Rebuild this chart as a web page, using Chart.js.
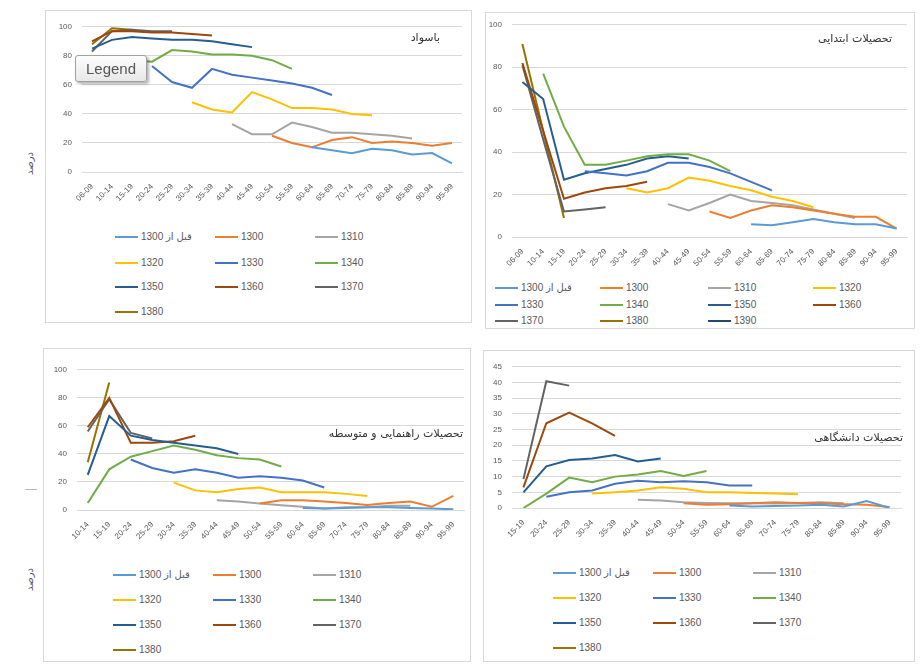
<!DOCTYPE html>
<html>
<head>
<meta charset="utf-8">
<script src="https://cdn.jsdelivr.net/npm/chart.js@4.4.1/dist/chart.umd.min.js"></script>
<style>
body { margin: 0; background: #fff; width: 920px; height: 669px; position: relative; overflow: hidden; font-family: "Liberation Sans", "DejaVu Sans", sans-serif; }
.panel { position: absolute; border: 1px solid #d9d9d9; box-sizing: border-box; }
canvas { position: absolute; }
.title { position: absolute; font-family: "DejaVu Sans", sans-serif; font-size: 11px; color: #333; direction: rtl; white-space: nowrap; }
.ylab { position: absolute; font-family: "DejaVu Sans", sans-serif; font-size: 10px; color: #595959; transform: rotate(-90deg); white-space: nowrap; }
.leg { position: absolute; font-size: 10px; line-height: 12px; color: #595959; white-space: nowrap; }
.leg .sw { display: inline-block; width: 23px; height: 2px; vertical-align: middle; margin-right: 3px; }
.legendTip { position: absolute; left: 75px; top: 55px; width: 72px; height: 27px; box-sizing: border-box; border: 1px solid #a0a0a0; border-radius: 3px;
  background: linear-gradient(#fdfdfd, #e8e8e8); box-shadow: 2px 2px 3px rgba(0,0,0,0.3); font-size: 15px; color: #555; text-align: center; line-height: 25px; }
</style>
</head>
<body>
<div class="panel" style="left:45px;top:10px;width:427px;height:313px"></div>
<div class="panel" style="left:485px;top:12px;width:430px;height:317px"></div>
<div class="panel" style="left:43px;top:348px;width:428px;height:314px"></div>
<div class="panel" style="left:483px;top:350px;width:432px;height:312px"></div>

<canvas id="literate" width="425" height="215" style="left:45px;top:12px"></canvas>
<canvas id="primary" width="428" height="267" style="left:486px;top:10px"></canvas>
<canvas id="secondary" width="425" height="210" style="left:45px;top:355px"></canvas>
<canvas id="university" width="430" height="210" style="left:482px;top:352px"></canvas>

<div class="title" style="right:480px;top:31px">باسواد</div>
<div class="title" style="right:28px;top:32px">تحصیلات ابتدایی</div>
<div class="title" style="right:457px;top:427px">تحصیلات راهنمایی و متوسطه</div>
<div class="title" style="right:17px;top:431px">تحصیلات دانشگاهی</div>

<div class="ylab" style="left:18px;top:158px">درصد</div>
<div class="ylab" style="left:18px;top:574px">درصد</div>
<div style="position:absolute;left:25px;top:489px;width:12px;height:1px;background:#bbb"></div>

<div class="legendTip">Legend</div>

<script>
const cohorts = ['قبل از 1300', '1300', '1310', '1320', '1330', '1340', '1350', '1360', '1370', '1380', '1390'];
const colors = ['#5B9BD5', '#ED7D31', '#A5A5A5', '#FFC000', '#4472C4', '#70AD47', '#255E91', '#9E480E', '#636363', '#997300', '#264478'];

const agesFrom6 = ['06-09', '10-14', '15-19', '20-24', '25-29', '30-34', '35-39', '40-44', '45-49', '50-54',
  '55-59', '60-64', '65-69', '70-74', '75-79', '80-84', '85-89', '90-94', '95-99'];
const agesFrom10 = ['10-14', '15-19', '20-24', '25-29', '30-34', '35-39', '40-44', '45-49', '50-54',
  '55-59', '60-64', '65-69', '70-74', '75-79', '80-84', '85-89', '90-94', '95-99'];
const agesFrom15 = ['15-19', '20-24', '25-29', '30-34', '35-39', '40-44', '45-49', '50-54',
  '55-59', '60-64', '65-69', '70-74', '75-79', '80-84', '85-89', '90-94', '95-99'];

const pctTicks = [0, 20, 40, 60, 80, 100];
const uniTicks = [0, 5, 10, 15, 20, 25, 30, 35, 40, 45];

// باسواد
const literateValues = [
  [null, null, null, null, null, null, null, null, null, null, null, 17, 15, 13, 16, 15, 12, 13, 6],
  [null, null, null, null, null, null, null, null, null, 25, 20, 17, 22, 24, 20, 21, 20, 18, 20],
  [null, null, null, null, null, null, null, 33, 26, 26, 34, 31, 27, 27, 26, 25, 23],
  [null, null, null, null, null, 48, 43, 41, 55, 50, 44, 44, 43, 40, 39],
  [null, null, null, 73, 62, 58, 71, 67, 65, 63, 61, 58, 53],
  [null, 78, 77, 76, 84, 83, 81, 81, 80, 77, 71],
  [85, 91, 93, 92, 91, 91, 90, 88, 86],
  [90, 97, 97, 96, 96, 95, 94],
  [83, 97, 98, 97, 97],
  [88, 99, 98]
];

// تحصیلات ابتدایی
const primaryValues = [
  [null, null, null, null, null, null, null, null, null, null, null, 6, 5.5, 7, 8.5, 7, 6, 6, 4],
  [null, null, null, null, null, null, null, null, null, 12, 9, 12.5, 15, 14, 12.5, 11, 9.5, 9.5, 4],
  [null, null, null, null, null, null, null, 15.5, 12.5, 16, 20, 17, 16, 15, 13, 11, 9],
  [null, null, null, null, null, 23, 21, 23, 28, 26.5, 24, 22, 19, 17, 14],
  [null, null, null, 31, 30, 29, 31, 35, 35, 33, 30, 26, 22],
  [null, 77, 52, 34, 34, 36, 38, 39, 39, 36, 31],
  [73, 65, 27, 30, 32, 34, 37, 38, 37],
  [82, 50, 18, 21, 23, 24, 26],
  [81, 46, 12, 13, 14],
  [91, 50, 9],
  [70]
];

// تحصیلات راهنمایی و متوسطه
const secondaryValues = [
  [null, null, null, null, null, null, null, null, null, null, 1.5, 1, 1.5, 2, 2, 1.5, 1, 0.5],
  [null, null, null, null, null, null, null, null, 4.6, 7, 7, 6, 5, 3.5, 5, 6, 2.3, 10],
  [null, null, null, null, null, null, 7, 6, 4.6, 3.4, 2.3, 1, 2, 2, 3, 3],
  [null, null, null, null, 19.5, 14, 12.6, 15, 16, 12.6, 12.6, 12.6, 11.5, 10],
  [null, null, 36, 30, 26.5, 29, 26.5, 23, 24, 23, 21, 16],
  [5, 29, 38, 42, 46, 43, 39, 37, 36, 31],
  [25, 67, 53, 50, 48, 46, 44, 40],
  [59, 80, 48, 48, 49, 53],
  [56, 79, 55, 51],
  [34, 91]
];

// تحصیلات دانشگاهی
const universityValues = [
  [null, null, null, null, null, null, null, null, null, 0.8, 0.5, 0.6, 0.8, 1, 0.5, 2.2, 0],
  [null, null, null, null, null, null, null, 1.5, 1, 1.2, 1.5, 1.8, 1.6, 1.5, 1.2, 1, 0.3],
  [null, null, null, null, null, 2.6, 2.4, 1.8, 1.6, 1.5, 1.5, 1.4, 1.6, 1.8, 1.5],
  [null, null, null, 4.6, 5, 5.6, 6.6, 6.1, 5, 5, 4.8, 4.6, 4.4],
  [null, 3.6, 5, 5.6, 7.7, 8.7, 8.2, 8.5, 8.2, 7.2, 7.2],
  [0, 4.6, 9.7, 8.2, 10, 10.7, 11.8, 10.2, 11.8],
  [5, 13.3, 15.3, 15.8, 16.9, 14.8, 15.8],
  [6.6, 27, 30.4, 27, 23],
  [9.2, 40.4, 39],
  [4]
];

function makeChart(id, labels, values, yTicks, box) {
  const yMax = yTicks[yTicks.length - 1];
  return new Chart(document.getElementById(id), {
    type: 'line',
    data: {
      labels: labels,
      datasets: values.map((v, i) => ({
        label: cohorts[i],
        data: v,
        borderColor: colors[i],
        backgroundColor: colors[i],
        borderWidth: 2,
        pointRadius: 0,
        tension: 0
      }))
    },
    options: {
      responsive: false,
      animation: false,
      devicePixelRatio: 1,
      layout: { padding: { top: box.top, right: box.right, left: 0, bottom: 0 } },
      plugins: { legend: { display: false }, tooltip: { enabled: false } },
      scales: {
        x: {
          offset: true,
          grid: { display: false },
          border: { color: '#d9d9d9' },
          ticks: { autoSkip: false, minRotation: 45, maxRotation: 45, padding: 2, font: { size: 8 }, color: '#595959' },
          afterFit: s => { s.height = box.xh; }
        },
        y: {
          min: 0,
          max: yMax,
          afterBuildTicks: s => { s.ticks = yTicks.map(v => ({ value: v })); },
          grid: { color: '#d9d9d9', drawTicks: false },
          border: { display: false },
          ticks: { padding: 10, font: { size: 8 }, color: '#595959' },
          afterFit: s => { s.width = box.yw; }
        }
      }
    }
  });
}

function buildLegend(chart, colX, rowY) {
  chart.data.datasets.forEach((ds, i) => {
    const col = i % colX.length;
    const row = Math.floor(i / colX.length);
    const d = document.createElement('div');
    d.className = 'leg';
    d.style.left = colX[col] + 'px';
    d.style.top = (rowY[row] - 6) + 'px';
    d.innerHTML = '<span class="sw" style="background:' + ds.borderColor + '"></span><span>' + ds.label + '</span>';
    document.body.appendChild(d);
  });
}

const literateChart = makeChart('literate', agesFrom6, literateValues, pctTicks, { top: 13, right: 8, yw: 37, xh: 55 });
const primaryChart = makeChart('primary', agesFrom6, primaryValues, pctTicks, { top: 10, right: 7, yw: 26, xh: 40 });
const secondaryChart = makeChart('secondary', agesFrom10, secondaryValues, pctTicks, { top: 10, right: 6, yw: 32, xh: 55 });
const universityChart = makeChart('university', agesFrom15, universityValues, uniTicks, { top: 10, right: 11, yw: 30, xh: 54 });

buildLegend(literateChart, [115, 215, 315], [237, 263, 287, 312]);
buildLegend(primaryChart, [495, 600, 708, 813], [288, 305, 321]);
buildLegend(secondaryChart, [113, 213, 313], [575, 600, 625, 650]);
buildLegend(universityChart, [553, 653, 753], [573, 598, 623, 648]);
</script>
</body>
</html>
